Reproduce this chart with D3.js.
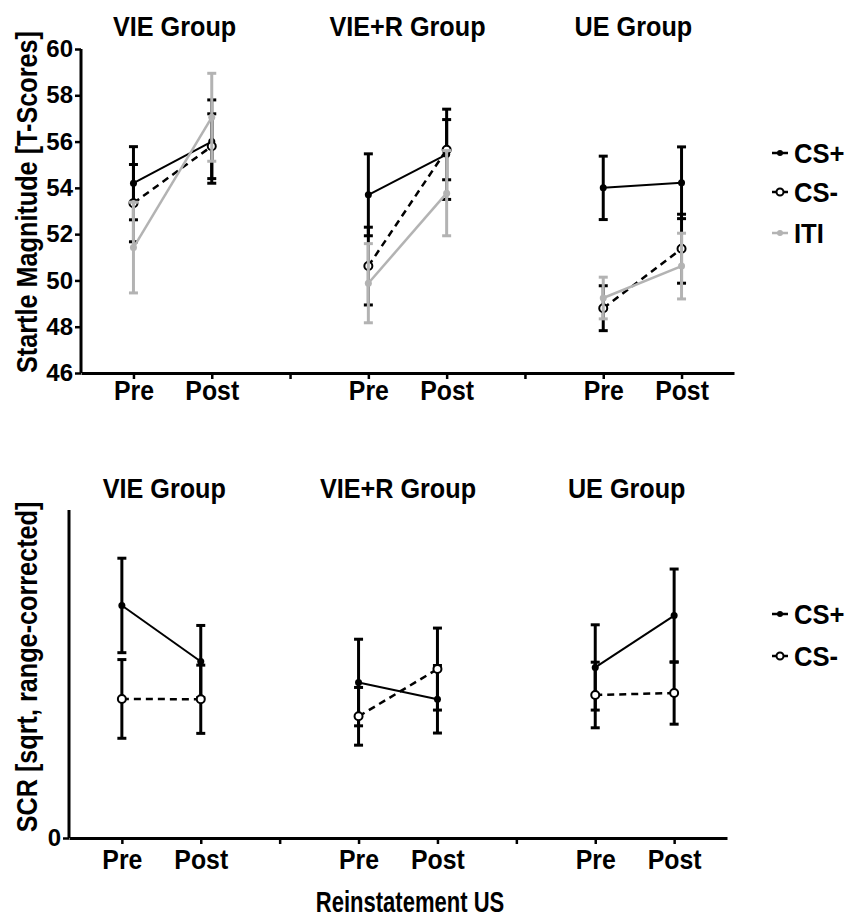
<!DOCTYPE html>
<html>
<head>
<meta charset="utf-8">
<script src="https://cdn.jsdelivr.net/npm/d3@7"></script>
<style>
    body { margin: 0; background: #fff; }
    svg text { font-family: "Liberation Sans", Arial, sans-serif; font-weight: bold; fill: #000; }
</style>
</head>
<body>
<svg id="chart" width="848" height="919"></svg>
<script>
// Categories
var groups = ['VIE Group', 'VIE+R Group', 'UE Group'];
var phases = ['Pre', 'Post'];
// x slots: Pre/Post for each group with an empty slot between groups
var slots = ['VIE-Pre', 'VIE-Post', 'gap1', 'VIER-Pre', 'VIER-Post', 'gap2', 'UE-Pre', 'UE-Post'];
var slotLabels = ['Pre', 'Post', '', 'Pre', 'Post', '', 'Pre', 'Post'];
var dataSlots = ['VIE-Pre', 'VIE-Post', 'VIER-Pre', 'VIER-Post', 'UE-Pre', 'UE-Post'];

// Startle magnitude (T-scores), order: VIE Pre, VIE Post, VIE+R Pre, VIE+R Post, UE Pre, UE Post
var startleCSplus = [54.20, 56.00, 53.70, 55.45, 54.00, 54.22];
var startleCSplusErr = [1.58, 1.80, 1.77, 1.95, 1.37, 1.55];
var startleCSminus = [53.34, 55.80, 50.62, 55.65, 48.80, 51.37];
var startleCSminusErr = [1.67, 1.40, 1.68, 1.30, 0.97, 1.49];
var startleITI = [51.42, 57.05, 49.88, 53.77, 49.24, 50.62];
var startleITIErr = [1.96, 1.90, 1.71, 1.84, 0.90, 1.42];
var startleTicks = [46, 48, 50, 52, 54, 56, 58, 60];

// SCR (sqrt, range-corrected), same order
var scrCSplus = [0.709, 0.538, 0.474, 0.423, 0.520, 0.678];
var scrCSplusErr = [0.144, 0.110, 0.132, 0.103, 0.130, 0.142];
var scrCSminus = [0.424, 0.423, 0.371, 0.515, 0.436, 0.442];
var scrCSminusErr = [0.120, 0.104, 0.088, 0.125, 0.100, 0.095];
var scrTicks = [0];

var grey = '#b3b3b3';

var svg = d3.select('#chart');

// helper for (optionally condensed / rotated) text
function addText(parent, x, y, str, size, anchor, sx, rot) {
    return parent.append('text')
        .attr('transform', 'translate(' + x + ',' + y + ') rotate(' + (rot || 0) + ') scale(' + (sx || 1) + ',1)')
        .attr('text-anchor', anchor || 'middle')
        .style('font-size', size + 'px')
        .text(str);
}

function toPoints(means, errs) {
    return means.map(function (m, i) {
        return { slot: dataSlots[i], group: Math.floor(i / 2), value: m, err: errs[i] };
    });
}

function drawPanel(cfg) {
    var g = svg.append('g');

    var x = d3.scalePoint()
        .domain(slots)
        .range([cfg.left, cfg.right])
        .padding(0.67);

    var y = d3.scaleLinear()
        .domain(cfg.domain)
        .range([cfg.bottom, cfg.top]);

    // x axis
    var xAxis = d3.axisBottom(x)
        .tickSizeOuter(0)
        .tickSizeInner(6)
        .tickFormat(function (d, i) { return slotLabels[i]; });

    var xg = g.append('g')
        .attr('transform', 'translate(0,' + cfg.bottom + ')')
        .call(xAxis);
    xg.select('.domain').attr('stroke-width', 3);
    xg.selectAll('.tick line').attr('stroke-width', 2.5);
    xg.selectAll('.tick text')
        .attr('y', 0)
        .attr('dy', 0)
        .attr('transform', 'translate(0,' + cfg.xLabelY + ') scale(0.92,1)')
        .style('font-size', '27px')
        .style('font-family', '"Liberation Sans", Arial, sans-serif')
        .style('font-weight', 'bold');

    // y axis
    var yAxis = d3.axisLeft(y)
        .tickValues(cfg.ticks)
        .tickSizeOuter(0)
        .tickSizeInner(6)
        .tickFormat(d3.format('d'));

    var yg = g.append('g')
        .attr('transform', 'translate(' + cfg.left + ',0)')
        .call(yAxis);
    yg.select('.domain').attr('stroke-width', 3)
        .attr('d', 'M0,' + cfg.top + 'V' + cfg.bottom);
    yg.selectAll('.tick line').attr('stroke-width', 2.5);
    yg.selectAll('.tick text')
        .attr('x', -8)
        .style('font-size', '24px')
        .style('font-family', '"Liberation Sans", Arial, sans-serif')
        .style('font-weight', 'bold');

    // group titles
    groups.forEach(function (name, i) {
        var cx = (x(slots[i * 3]) + x(slots[i * 3 + 1])) / 2 + cfg.titleShift[i];
        addText(g, cx, cfg.titleY, name, 28, 'middle', 0.9);
    });

    // y axis title
    addText(g, 37, (cfg.top + cfg.bottom) / 2 + cfg.yTitleShift, cfg.yTitle, 29, 'middle', 0.87, -90);

    var line = d3.line()
        .x(function (d) { return x(d.slot); })
        .y(function (d) { return y(d.value); });

    // series in drawing order (ITI on top)
    cfg.series.forEach(function (s) {
        var pts = toPoints(s.means, s.errs);
        var sg = g.append('g');

        // error bars
        var eb = sg.selectAll('.err')
            .data(pts)
            .enter()
            .append('g')
            .attr('stroke', s.color)
            .attr('stroke-width', 3);
        eb.append('line')
            .attr('x1', function (d) { return x(d.slot); })
            .attr('x2', function (d) { return x(d.slot); })
            .attr('y1', function (d) { return y(d.value - d.err); })
            .attr('y2', function (d) { return y(d.value + d.err); });
        eb.append('line')
            .attr('x1', function (d) { return x(d.slot) - 4.5; })
            .attr('x2', function (d) { return x(d.slot) + 4.5; })
            .attr('y1', function (d) { return y(d.value + d.err); })
            .attr('y2', function (d) { return y(d.value + d.err); });
        eb.append('line')
            .attr('x1', function (d) { return x(d.slot) - 4.5; })
            .attr('x2', function (d) { return x(d.slot) + 4.5; })
            .attr('y1', function (d) { return y(d.value - d.err); })
            .attr('y2', function (d) { return y(d.value - d.err); });

        // connecting lines, one per group
        var byGroup = d3.groups(pts, function (d) { return d.group; });
        sg.selectAll('.conn')
            .data(byGroup)
            .enter()
            .append('path')
            .attr('fill', 'none')
            .attr('stroke', s.color)
            .attr('stroke-width', s.width)
            .attr('stroke-dasharray', s.dash)
            .attr('d', function (d) { return line(d[1]); });

        // markers
        sg.selectAll('.pt')
            .data(pts)
            .enter()
            .append('circle')
            .attr('cx', function (d) { return x(d.slot); })
            .attr('cy', function (d) { return y(d.value); })
            .attr('r', s.open ? 4 : 3.5)
            .attr('fill', s.open ? '#fff' : s.color)
            .attr('stroke', s.color)
            .attr('stroke-width', s.open ? 2 : 0);
    });

    // legend
    cfg.series.forEach(function (s, i) {
        var ly = cfg.legendY[i];
        var lg = g.append('g');
        lg.append('line')
            .attr('x1', 772).attr('x2', 788)
            .attr('y1', ly).attr('y2', ly)
            .attr('stroke', s.color)
            .attr('stroke-width', 2.5);
        lg.append('circle')
            .attr('cx', 780).attr('cy', ly)
            .attr('r', s.open ? 3.5 : 3)
            .attr('fill', s.open ? '#fff' : s.color)
            .attr('stroke', s.color)
            .attr('stroke-width', s.open ? 2 : 0);
        addText(lg, 794, ly + 10, s.name, 27, 'start', 0.95);
    });
}

// top panel: startle
drawPanel({
    left: 81, right: 734, top: 49, bottom: 373,
    domain: [46, 60], ticks: startleTicks,
    xLabelY: 27, titleY: 36, titleShift: [2, 0, -9],
    yTitle: 'Startle Magnitude [T-Scores]', yTitleShift: -9,
    legendY: [153, 192, 233],
    series: [
        { name: 'CS+', means: startleCSplus, errs: startleCSplusErr, color: '#000', width: 2, dash: null, open: false },
        { name: 'CS-', means: startleCSminus, errs: startleCSminusErr, color: '#000', width: 2.5, dash: '7,5', open: true },
        { name: 'ITI', means: startleITI, errs: startleITIErr, color: grey, width: 2.5, dash: null, open: false }
    ]
});

// bottom panel: SCR
drawPanel({
    left: 69, right: 727, top: 510, bottom: 838,
    domain: [0, 1], ticks: scrTicks,
    xLabelY: 31, titleY: 498, titleShift: [3, 0, -8],
    yTitle: 'SCR [sqrt, range-corrected]', yTitleShift: -7,
    legendY: [614, 656],
    series: [
        { name: 'CS+', means: scrCSplus, errs: scrCSplusErr, color: '#000', width: 2, dash: null, open: false },
        { name: 'CS-', means: scrCSminus, errs: scrCSminusErr, color: '#000', width: 2.5, dash: '7,5', open: true }
    ]
});

// shared x axis title
addText(svg, 410, 912, 'Reinstatement US', 29, 'middle', 0.76);
</script>
</body>
</html>
